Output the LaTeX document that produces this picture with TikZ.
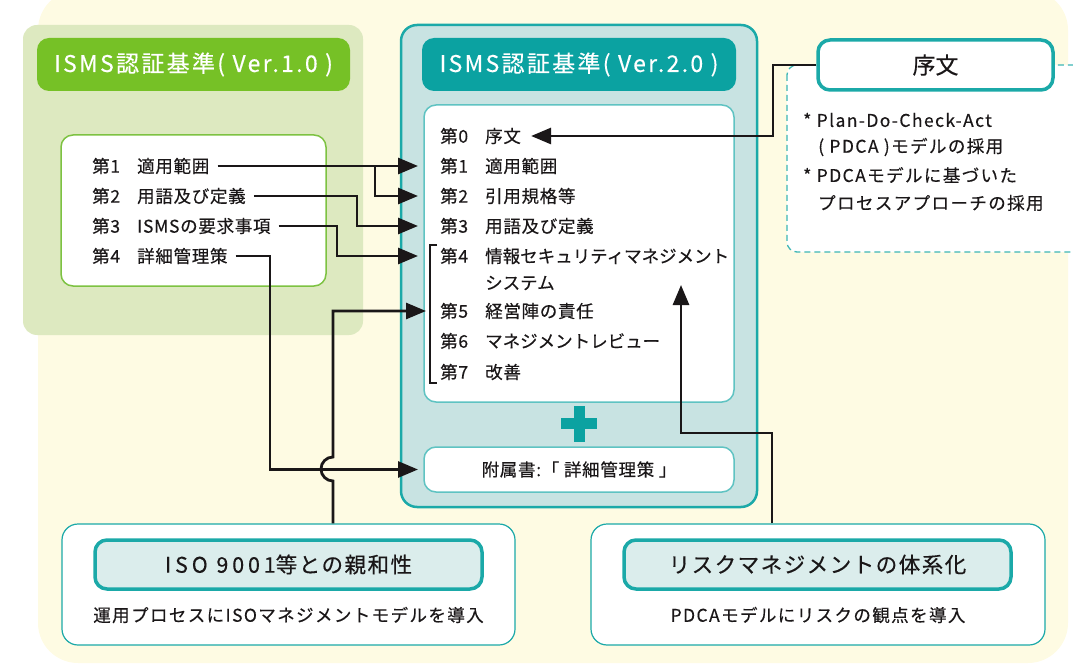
\documentclass[tikz,border=0pt]{standalone}
\usepackage{fontspec}
\setmainfont{Noto Sans CJK JP}[FakeBold=0.35]
\usetikzlibrary{arrows.meta,calc}
\definecolor{cream}{HTML}{FEFBE3}
\definecolor{greenbg}{HTML}{DDE9C0}
\definecolor{greenhd}{HTML}{76C126}
\definecolor{greenln}{HTML}{7DC242}
\definecolor{tealbg}{HTML}{C8E3E2}
\definecolor{tealln}{HTML}{1BA9A8}
\definecolor{tealhd}{HTML}{0BA2A1}
\definecolor{teallt}{HTML}{DBEDEC}
\definecolor{ink}{HTML}{1A1718}
\newcommand{\itemfont}{\fontsize{17.5}{20}\selectfont\addfontfeature{LetterSpace=4}}
\newcommand{\hdrfont}{\fontsize{23}{26}\selectfont\addfontfeature{LetterSpace=10}}
\newcommand{\ttlfont}{\fontsize{21.5}{24}\selectfont\addfontfeature{LetterSpace=7}}
\newcommand{\subfont}{\fontsize{17.5}{19}\selectfont\addfontfeature{LetterSpace=8}}
\newcommand{\secno}[1]{\makebox[45pt][l]{#1}}
\newcommand{\tight}{\addfontfeature{LetterSpace=0}}
\tikzset{
  itm/.style={anchor=west, inner sep=0pt, font=\itemfont, text=ink},
  ln/.style={line width=2.8pt, draw=ink},
  arr/.style={line width=2.8pt, draw=ink, -{Triangle[length=20pt,width=16pt]}},
  hdr/.style={inner sep=0pt, rounded corners=12pt, text=white, font=\hdrfont},
  wbox/.style={fill=white, rounded corners=12pt, inner sep=0pt},
  ttl/.style={fill=teallt, draw=tealln, line width=3.5pt, rounded corners=12pt, inner sep=0pt, font=\ttlfont, text=ink},
}
\begin{document}
\begin{tikzpicture}[x=1pt,y=-1pt]
\useasboundingbox (0,0) rectangle (1073,668);
% background
\fill[cream, rounded corners=40pt] (38,-10) rectangle (1068,663);

% ---- Ver 1.0 panel
\node[fill=greenbg, rounded corners=14pt, minimum width=340pt, minimum height=310pt, inner sep=0pt] (v1) at (193,180) {};
\node[hdr, fill=greenhd, minimum width=313pt, minimum height=53pt] (v1h) at (193.5,64.5) {ISMS認証基準( Ver.1.0 )};
\node[wbox, draw=greenln, line width=1.5pt, minimum width=265pt, minimum height=151pt] (v1b) at (193.5,210.5) {};
\node[itm] (l1) at (92,166) {\secno{第1}適用範囲};
\node[itm] (l2) at (92,196) {\secno{第2}用語及び定義};
\node[itm] (l3) at (92,226) {\secno{第3}ISMSの要求事項};
\node[itm] (l4) at (92,256) {\secno{第4}詳細管理策};

% ---- Ver 2.0 panel
\node[fill=tealbg, draw=tealln, line width=2.5pt, rounded corners=16pt, minimum width=356pt, minimum height=482pt, inner sep=0pt] (v2) at (579,266) {};
\node[hdr, fill=tealhd, minimum width=314pt, minimum height=53pt] (v2h) at (579,64.5) {ISMS認証基準( Ver.2.0 )};
\node[wbox, draw=tealln!70, line width=1.5pt, minimum width=310pt, minimum height=297pt] (v2b) at (579,253.5) {};
\node[itm] (r0) at (440,136) {\secno{第0}序文};
\node[itm] (r1) at (440,166) {\secno{第1}適用範囲};
\node[itm] (r2) at (440,196) {\secno{第2}引用規格等};
\node[itm] (r3) at (440,226) {\secno{第3}用語及び定義};
\node[itm] (r4) at (440,256) {\secno{第4}{\tight 情報セキュリティマネジメント}};
\node[itm] (r4b) at (485,283) {\tight システム};
\node[itm] (r5) at (440,311) {\secno{第5}経営陣の責任};
\node[itm] (r6) at (440,341) {\secno{第6}{\tight マネジメントレビュー}};
\node[itm] (r7) at (440,372) {\secno{第7}改善};
\draw[ink, line width=1.3pt] (437,245) -- (430,245) -- (430,383) -- (437,383);
% plus
\fill[tealhd] (561,418) rectangle (597,429);
\fill[tealhd] (574,406) rectangle (585,442);
\node[wbox, draw=tealln!70, line width=1.5pt, minimum width=310pt, minimum height=45pt, font=\itemfont, text=ink] (att) at (579,469.5) {附属書:「 詳細管理策 」};

% ---- Preface
\draw[tealln!85, line width=1.3pt, dash pattern=on 6pt off 4pt, fill=white, rounded corners=10pt] (787,65) rectangle (1100,252);
\node[wbox, draw=tealln, line width=3.5pt, minimum width=235pt, minimum height=50pt, font=\fontsize{23}{25}\selectfont, text=ink] (pre) at (935.5,65) {序文};
\node[itm, font=\subfont] (p1) at (803,120) {* Plan-Do-Check-Act};
\node[itm, font=\subfont] (p2) at (818,147) {( PDCA )モデルの採用};
\node[itm, font=\subfont] (p3) at (803,175) {* PDCAモデルに基づいた};
\node[itm, font=\subfont] (p4) at (818,203) {プロセスアプローチの採用};

% ---- bottom boxes
\node[wbox, draw=tealln, line width=1.2pt, rounded corners=16pt, minimum width=453pt, minimum height=121pt] (iso) at (288.5,584.5) {};
\node[ttl, minimum width=387pt, minimum height=49pt] (isot) at (288.5,564.5) {{\addfontfeature{LetterSpace=18}ISO 9001}等との親和性};
\node[font=\subfont, text=ink, inner sep=0pt] (isos) at (288.5,615) {運用プロセスにISOマネジメントモデルを導入};
\node[wbox, draw=tealln, line width=1.2pt, rounded corners=16pt, minimum width=454pt, minimum height=121pt] (risk) at (818,584.5) {};
\node[ttl, minimum width=387pt, minimum height=49pt] (riskt) at (817.5,564.5) {リスクマネジメントの体系化};
\node[font=\subfont, text=ink, inner sep=0pt] (risks) at (818,615) {PDCAモデルにリスクの観点を導入};

% ---- connectors
\coordinate (tip) at (418,0);
\coordinate (j1) at (375,0);
\coordinate (j2) at (357,0);
\coordinate (j3) at (337,0);
\coordinate (j4) at (270,0);
\coordinate (hop) at (333,469);
\coordinate (jp) at (773,0);
\coordinate (jr) at (681,433);
\coordinate (rt) at (681,285);
\coordinate (jrv) at (772,0);

\draw[arr] ([xshift=8pt]l1.east) -- (r1.west -| tip);
\draw[arr] (l1.east -| j1) |- (r2.west -| tip);
\draw[arr] ([xshift=8pt]l2.east) -- (l2.east -| j2) |- (r3.west -| tip);
\draw[arr] ([xshift=8pt]l3.east) -- (l3.east -| j3) |- (r4.west -| tip);
\draw[arr] ([xshift=8pt]l4.east) -- (l4.east -| j4) |- (att.west -| tip);
\draw[arr] (iso.north -| hop) -- ([yshift=-12pt]hop) arc[start angle=270, end angle=90, radius=12pt] -- (hop |- r5.west) -- ([xshift=-14pt]r5.west);
\draw[arr] (pre.west) -- (pre.west -| jp) |- ([xshift=10pt]r0.east);
\draw[arr] (risk.north -| jrv) |- (jr) -- (rt);
\end{tikzpicture}
\end{document}
